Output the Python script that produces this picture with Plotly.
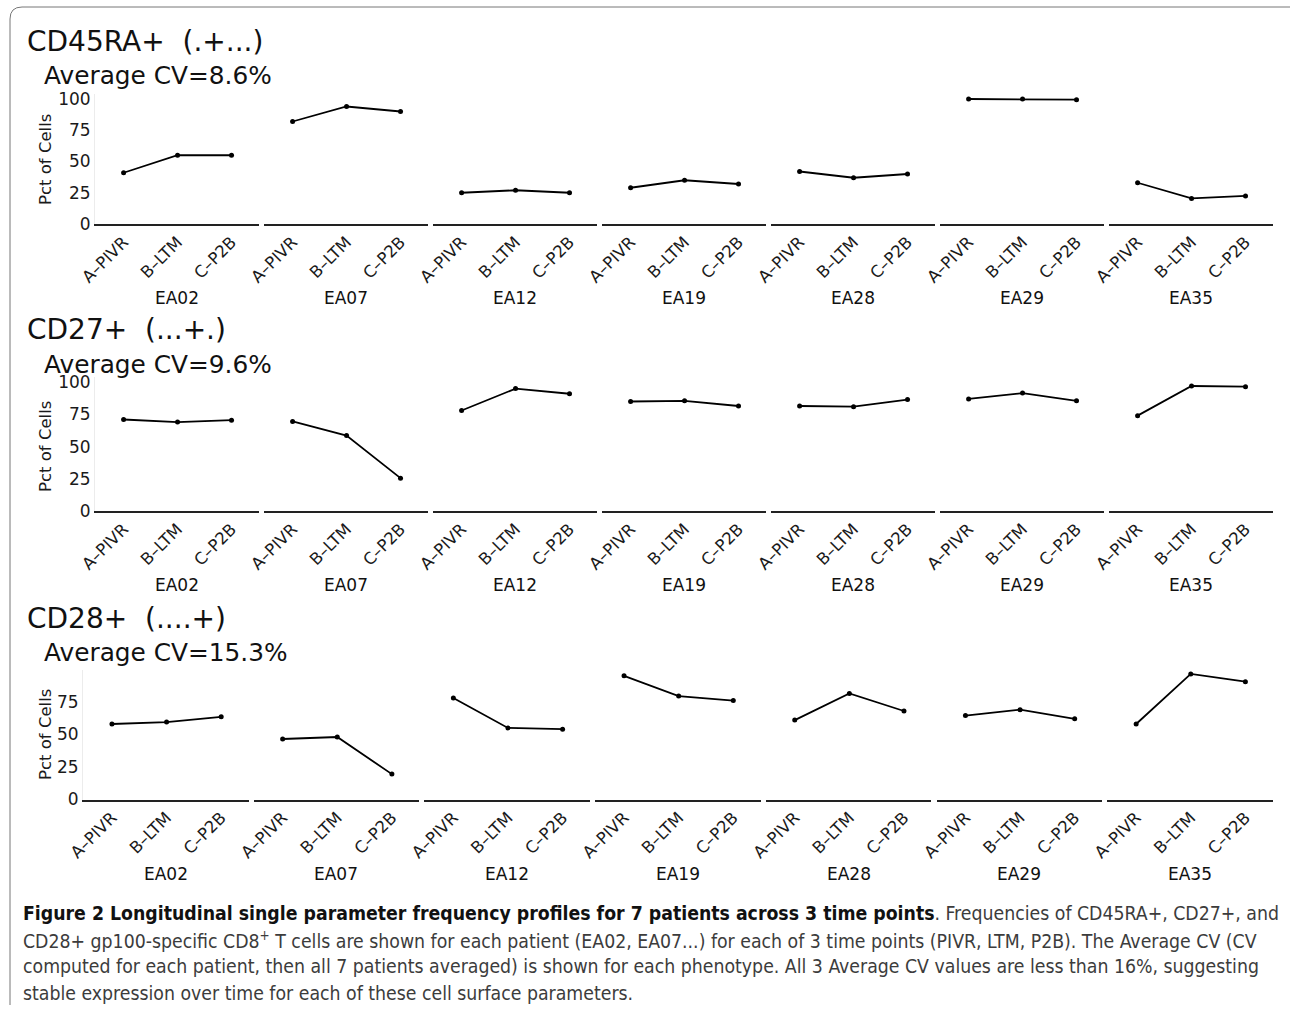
import plotly.graph_objects as go

patients = ["EA02", "EA07", "EA12", "EA19", "EA28", "EA29", "EA35"]
timepoints = ["A–PIVR", "B–LTM", "C–P2B"]

cd45ra = [[41, 55, 55], [82, 94, 90], [25, 27, 25], [29, 35, 32],
          [42, 37, 40], [100, 100, 99.5], [33, 20.5, 22.5]]
cd27 = [[71, 69, 70.5], [69.5, 58.5, 25.5], [78, 95, 91], [85, 85.5, 81.5],
        [81.5, 81, 86.5], [87, 91.5, 85.5], [74, 97, 96.5]]
cd28 = [[58, 59.5, 63.5], [46.5, 48, 19.5], [78, 55, 54], [95, 79.5, 76],
        [61, 81.5, 68], [64.5, 69, 62], [58, 96.5, 90.5]]

panel_titles = ["CD45RA+\u00a0 (.+...)", "CD27+\u00a0 (...+.)", "CD28+\u00a0 (....+)"]
cv_labels = ["Average CV=8.6%", "Average CV=9.6%", "Average CV=15.3%"]
y_ticks = [0, 25, 50, 75, 100]

W, H = 1290, 1011
FONT = "DejaVu Sans"

def px(x):
    return x / W

def py(y):
    return 1 - y / H

panels = [
    dict(data=cd45ra, base=224, top=94, ymax=104, x0=95, step=169, w=163.5,
         t_y=42, cv_y=75.5, lab_y=298, yt_y=160),
    dict(data=cd27, base=511, top=377, ymax=104, x0=95, step=169, w=163.5,
         t_y=330, cv_y=364, lab_y=585, yt_y=447),
    dict(data=cd28, base=799.5, top=670, ymax=99.5, x0=83, step=170.7, w=165.5,
         t_y=618, cv_y=652, lab_y=874, yt_y=735),
]

fig = go.Figure()
layout = {}
annotations = []
k = 0
for pi, p in enumerate(panels):
    for j, pat in enumerate(patients):
        k += 1
        xa = "x" if k == 1 else f"x{k}"
        ya = "y" if k == 1 else f"y{k}"
        xl = "xaxis" if k == 1 else f"xaxis{k}"
        yl = "yaxis" if k == 1 else f"yaxis{k}"
        left = p["x0"] + j * p["step"]
        right = left + p["w"]
        fig.add_trace(go.Scatter(
            x=[1, 2, 3], y=p["data"][j], mode="lines+markers",
            line=dict(color="black", width=1.8),
            marker=dict(color="black", size=5),
            xaxis=xa, yaxis=ya, showlegend=False, hoverinfo="skip"))
        layout[xl] = dict(
            domain=[px(left), px(right)], anchor=ya, range=[0.47, 3.5],
            tickmode="array", tickvals=[1, 2, 3], ticktext=timepoints,
            tickangle=-45, tickfont=dict(family=FONT, size=16.5, color="#1a1a1a"),
            showline=True, linecolor="#222", linewidth=2, ticks="",
            showgrid=False, zeroline=False, fixedrange=True, automargin=False)
        layout[yl] = dict(
            domain=[py(p["base"]), py(p["top"])], anchor=xa,
            range=[0, p["ymax"]], showgrid=False, zeroline=False,
            tickmode="array", tickvals=y_ticks,
            showticklabels=(j == 0), ticks="",
            tickfont=dict(family=FONT, size=17, color="#1a1a1a"),
            showline=(j == 0), linecolor="#ececec", linewidth=1,
            fixedrange=True, automargin=False)
        annotations.append(dict(
            x=px((left + right) / 2), y=py(p["lab_y"]), xref="paper", yref="paper",
            text=pat, showarrow=False, xanchor="center", yanchor="middle",
            font=dict(family=FONT, size=17, color="#111")))
    annotations.append(dict(
        x=px(25), y=py(p["t_y"]), xref="paper", yref="paper",
        text=panel_titles[pi], showarrow=False, xanchor="left", yanchor="middle",
        font=dict(family=FONT, size=28, color="#111")))
    annotations.append(dict(
        x=px(42), y=py(p["cv_y"]), xref="paper", yref="paper",
        text=cv_labels[pi], showarrow=False, xanchor="left", yanchor="middle",
        font=dict(family=FONT, size=24.8, color="#111")))
    annotations.append(dict(
        x=px(45), y=py(p["yt_y"]), xref="paper", yref="paper",
        text="Pct of Cells", showarrow=False, textangle=-90,
        xanchor="center", yanchor="middle",
        font=dict(family=FONT, size=16.5, color="#1a1a1a")))

CAP = "Liberation Sans Narrow, DejaVu Sans Condensed, Roboto Condensed, DejaVu Sans"
caption_lines = [
    "<b><span style='color:#111'>Figure 2 Longitudinal single parameter frequency profiles for 7 patients across 3 time points</span></b>. "
    "Frequencies of CD45RA+, CD27+, and",
    "CD28+ gp100-specific CD8<sup>+</sup> T cells are shown for each patient (EA02, EA07...) for each of 3 time points (PIVR, LTM, P2B). The Average CV (CV",
    "computed for each patient, then all 7 patients averaged) is shown for each phenotype. All 3 Average CV values are less than 16%, suggesting",
    "stable expression over time for each of these cell surface parameters.",
]
for i, line in enumerate(caption_lines):
    annotations.append(dict(
        x=px(21), y=py(913 + i * 26.7), xref="paper", yref="paper",
        text=line, showarrow=False, xanchor="left", yanchor="middle",
        font=dict(family=CAP, size=19.3, color="#3c3c3c")))

shapes = [dict(
    type="path", xref="paper", yref="paper",
    path=f"M {px(1290)},{py(7)} L {px(22)},{py(7)} Q {px(10)},{py(7)} {px(10)},{py(19)} L {px(10)},{py(1005)}",
    line=dict(color="#777", width=1))]

fig.update_layout(
    **layout,
    annotations=annotations,
    shapes=shapes,
    width=W, height=H,
    autosize=False,
    margin=dict(l=0, r=0, t=0, b=0, pad=0, autoexpand=False),
    paper_bgcolor="white", plot_bgcolor="white",
    showlegend=False,
)
fig.write_html(
    "out.html",
    config={"displayModeBar": False, "responsive": False},
    post_script="document.body.style.margin='0';document.body.style.overflow='hidden';",
)
